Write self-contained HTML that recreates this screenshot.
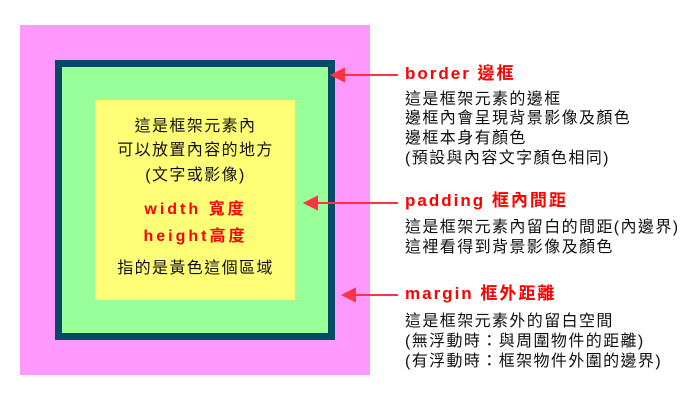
<!DOCTYPE html>
<html><head><meta charset="utf-8"><style>
body{margin:0;width:700px;height:400px;background:#fff;position:relative;overflow:hidden;font-family:"Liberation Sans","Noto Sans CJK TC",sans-serif}
.a{position:absolute}
.t{position:absolute;white-space:nowrap;font-size:16px;color:#111;letter-spacing:1.4px;line-height:20px}
.r{color:#f00;font-size:17px;letter-spacing:2px;font-weight:bold}
.c{left:95px;width:200px;text-align:center;text-indent:1px}
</style></head><body>
<div class="a" style="left:20px;top:25px;width:350px;height:350px;background:#ff99ff"></div>
<div class="a" style="left:55px;top:60px;width:266px;height:266px;border:7px solid #044a64;background:#99ff99"></div>
<div class="a" style="left:95px;top:100px;width:200px;height:200px;background:#ffff77"></div>
<div class="t c" style="top:117px">這是框架元素內</div>
<div class="t c" style="top:141px">可以放置內容的地方</div>
<div class="t c" style="top:166px">(文字或影像)</div>
<div class="t c r" style="top:200px;font-size:16px;letter-spacing:3px">width 寬度</div>
<div class="t c r" style="top:227px;font-size:16px;letter-spacing:3px">height高度</div>
<div class="t c" style="top:259px">指的是黃色這個區域</div>
<svg class="a" style="left:0;top:0" width="700" height="400">
<g stroke="#ff3344" stroke-width="2" fill="#ff3344">
<line x1="340" y1="75" x2="398" y2="75"/><polygon points="332,75 344,69 344,81"/>
<line x1="313" y1="203" x2="398" y2="203"/><polygon points="305,203 317,197 317,209"/>
<line x1="351" y1="295" x2="398" y2="295"/><polygon points="343,295 355,289 355,301"/>
</g></svg>
<div class="t r" style="left:405px;top:64px">border 邊框</div>
<div class="t" style="left:405px;top:90px">這是框架元素的邊框</div>
<div class="t" style="left:405px;top:109px">邊框內會呈現背景影像及顏色</div>
<div class="t" style="left:405px;top:129px">邊框本身有顏色</div>
<div class="t" style="left:405px;top:149px">(預設與內容文字顏色相同)</div>
<div class="t r" style="left:405px;top:191px">padding 框內間距</div>
<div class="t" style="left:405px;top:218px">這是框架元素內留白的間距(內邊界)</div>
<div class="t" style="left:405px;top:238px">這裡看得到背景影像及顏色</div>
<div class="t r" style="left:405px;top:284px">margin 框外距離</div>
<div class="t" style="left:405px;top:312px">這是框架元素外的留白空間</div>
<div class="t" style="left:405px;top:332px">(無浮動時：與周圍物件的距離)</div>
<div class="t" style="left:405px;top:352px">(有浮動時：框架物件外圍的邊界)</div>
</body></html>
